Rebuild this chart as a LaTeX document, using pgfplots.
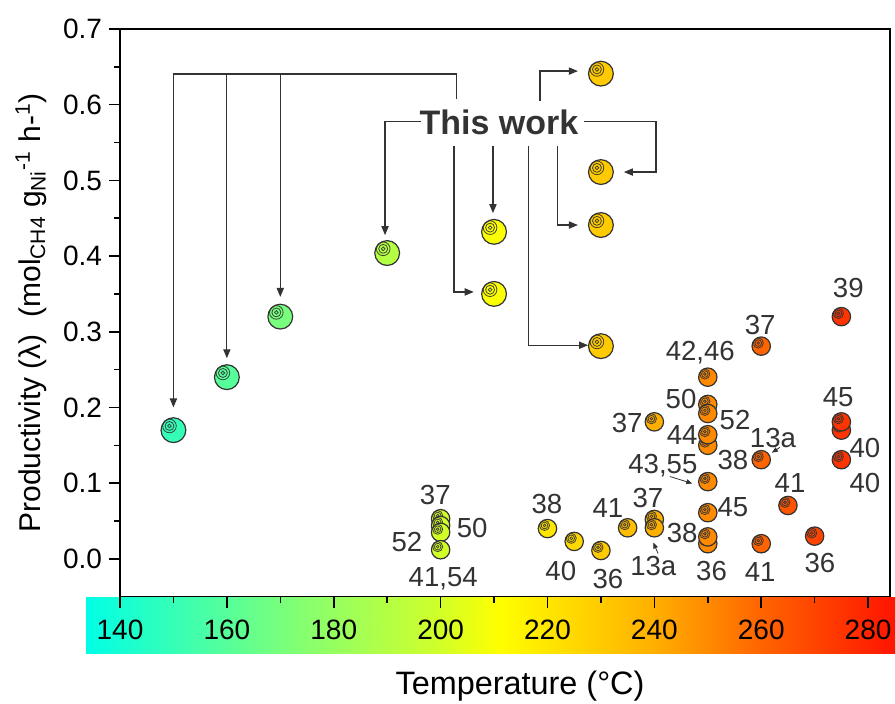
\documentclass[border=0pt]{standalone}
\usepackage{pgfplots}
\pgfplotsset{compat=1.18}
\usepackage{fontspec}
\setmainfont{Liberation Sans}
\usetikzlibrary{arrows.meta}

\pgfdeclareplotmark{sph}{%
  \pgfpathcircle{\pgfpointorigin}{\pgfplotmarksize}%
  \pgfusepathqfillstroke
  \begin{pgfscope}%
  \pgfsetlinewidth{0.4pt}%
  \pgfsetstrokeopacity{0.9}%
  \pgfpathcircle{\pgfpoint{-0.32\pgfplotmarksize}{0.34\pgfplotmarksize}}{0.55\pgfplotmarksize}%
  \pgfpathcircle{\pgfpoint{-0.32\pgfplotmarksize}{0.34\pgfplotmarksize}}{0.36\pgfplotmarksize}%
  \pgfpathcircle{\pgfpoint{-0.32\pgfplotmarksize}{0.34\pgfplotmarksize}}{0.15\pgfplotmarksize}%
  \pgfusepathqstroke
  \end{pgfscope}%
}

\pgfplotsset{colormap={temp}{rgb255(134)=(0,255,230) rgb255(175)=(135,255,110) rgb255(200)=(210,255,40) rgb255(211)=(255,255,0) rgb255(240)=(255,175,0) rgb255(250)=(255,138,0) rgb255(260)=(255,100,0) rgb255(285)=(255,20,0)}}

\tikzset{
  lab/.style={font=\fontsize{13.8}{15}\selectfont, text=black!80, inner sep=0pt},
  arr/.style={draw=black!80, line width=0.6pt, -{Triangle[length=4.5pt,width=3.6pt]}},
  sarr/.style={draw=black!80, line width=0.4pt, -{Triangle[length=3pt,width=2.4pt]}},
}

\begin{document}
\begin{tikzpicture}
\useasboundingbox (-60pt,-53.65pt) rectangle (387.5pt,298.35pt);
% colour bar
\begin{axis}[
  at={(-17pt,0pt)}, anchor=north west,
  scale only axis, width=404.5pt, height=28.5pt,
  xmin=133.64, xmax=285.04, ymin=0, ymax=1,
  hide axis, colormap name=temp,
  point meta min=134, point meta max=285,
]
\addplot[surf, shader=interp, point meta=x, mesh/rows=2] coordinates {
  (133.64,0) (175,0) (200,0) (211,0) (240,0) (250,0) (260,0) (285.04,0)
  (133.64,1) (175,1) (200,1) (211,1) (240,1) (250,1) (260,1) (285.04,1)
};
\end{axis}
\begin{axis}[
  at={(0,0)}, anchor=south west,
  scale only axis, width=385pt, height=283.85pt,
  xmin=140, xmax=284.1, ymin=-0.05, ymax=0.7,
  xtick={140,160,...,280}, ytick={0,0.1,0.2,0.3,0.4,0.5,0.6,0.7},
  minor x tick num=1, minor y tick num=1,
  tick align=outside, xtick pos=left, ytick pos=left,
  major tick length=5.5pt, minor tick length=3pt,
  axis line style={line width=0.8pt},
  every tick/.style={line width=0.8pt, black},
  /pgf/number format/assume math mode=true,
  yticklabel style={/pgf/number format/.cd, fixed, fixed zerofill, precision=1, /tikz/.cd, font=\fontsize{14}{16}\selectfont},
  xticklabel={\raisebox{-16pt}[0pt][0pt]{\pgfmathprintnumber{\tick}}},
  xticklabel style={anchor=center, inner sep=0pt, font=\fontsize{14}{16}\selectfont},
  xlabel={Temperature (°C)},
  xlabel style={at={(axis description cs:0.5195,0)}, anchor=center, yshift=-44.5pt, font=\fontsize{16.2}{18}\selectfont},
  ylabel={Productivity (λ)\ \ (mol\textsubscript{CH4} g\textsubscript{Ni}\textsuperscript{-1} h-\textsuperscript{1})},
  ylabel style={at={(axis description cs:-0.1156,0.5)}, anchor=center, font=\fontsize{15}{18}\selectfont},
  colormap name=temp,
  point meta min=134, point meta max=285,
  clip=false,
]
% literature data
\addplot[scatter, only marks, mark=sph, mark size=4.6pt, line width=0.6pt, point meta=x,
  scatter/use mapped color={draw=black!80, fill=mapped color}] coordinates {
  (200,0.053) (200,0.044) (200,0.035) (200,0.012)
  (220,0.040) (225,0.023) (230,0.011) (235,0.041)
  (240,0.052) (240,0.041) (240,0.181)
  (250,0.240) (250,0.204) (250,0.192) (250,0.150) (250,0.164)
  (250,0.102) (250,0.061) (250,0.020) (250,0.029)
  (260,0.281) (260,0.131) (260,0.020) (265,0.0705) (270,0.030)
  (275,0.320) (275,0.170) (275,0.181) (275,0.131)
};
% this work
\addplot[scatter, only marks, mark=sph, mark size=6.2pt, line width=0.6pt, point meta=x,
  scatter/use mapped color={draw=black!80, fill=mapped color}] coordinates {
  (150,0.17) (160,0.24) (170,0.32) (190,0.404) (210,0.432) (210,0.350)
  (230,0.641) (230,0.511) (230,0.441) (230,0.281)
};
% This work annotation
\node[font=\fontsize{17}{20}\selectfont\bfseries, text=black!80, inner sep=0pt] at (axis cs:210.9,0.5764) {This work};
\draw[arr] (axis cs:202.9,0.6075) -- (axis cs:202.9,0.6405) -- (axis cs:150,0.6405) -- (axis cs:150,0.200);
\draw[arr] (axis cs:160,0.6405) -- (axis cs:160,0.265);
\draw[arr] (axis cs:170,0.6405) -- (axis cs:170,0.346);
\draw[arr] (axis cs:196.3,0.5777) -- (axis cs:189.6,0.5777) -- (axis cs:189.6,0.4276);
\draw[arr] (axis cs:202.5,0.546) -- (axis cs:202.5,0.3526) -- (axis cs:206.2,0.3526);
\draw[arr] (axis cs:209.8,0.546) -- (axis cs:209.8,0.4567);
\draw[arr] (axis cs:216.4,0.546) -- (axis cs:216.4,0.2822) -- (axis cs:227.6,0.2822);
\draw[arr] (axis cs:221.8,0.546) -- (axis cs:221.8,0.441) -- (axis cs:225.7,0.441);
\draw[arr] (axis cs:218.6,0.605) -- (axis cs:218.6,0.6444) -- (axis cs:225.7,0.6444);
\draw[arr] (axis cs:226.8,0.5777) -- (axis cs:240.3,0.5777) -- (axis cs:240.3,0.511) -- (axis cs:234.3,0.511);
% small arrows
\draw[sarr] (axis cs:242.9,0.1088) -- (axis cs:247.1,0.0996);
\draw[sarr] (axis cs:263.5,0.1473) -- (axis cs:262.0,0.1402);
\draw[sarr] (axis cs:240.7,0.0070) -- (axis cs:239.8,0.0216);
% reference labels
\node[lab] at (axis cs:276.3,0.3577) {39};
\node[lab] at (axis cs:259.8,0.309) {37};
\node[lab] at (axis cs:248.6,0.273) {42,46};
\node[lab] at (axis cs:245.0,0.2116) {50};
\node[lab] at (axis cs:255.1,0.183) {52};
\node[lab] at (axis cs:234.9,0.179) {37};
\node[lab] at (axis cs:245.2,0.164) {44};
\node[lab] at (axis cs:262.2,0.160) {13a};
\node[lab] at (axis cs:254.7,0.130) {38};
\node[lab] at (axis cs:241.6,0.1235) {43,55};
\node[lab] at (axis cs:274.4,0.213) {45};
\node[lab] at (axis cs:279.4,0.147) {40};
\node[lab] at (axis cs:279.4,0.0996) {40};
\node[lab] at (axis cs:265.4,0.0996) {41};
\node[lab] at (axis cs:254.7,0.068) {45};
\node[lab] at (axis cs:231.3,0.0666) {41};
\node[lab] at (axis cs:238.8,0.081) {37};
\node[lab] at (axis cs:245.2,0.0335) {38};
\node[lab] at (axis cs:250.7,-0.0155) {36};
\node[lab] at (axis cs:259.8,-0.018) {41};
\node[lab] at (axis cs:271.0,-0.006) {36};
\node[lab] at (axis cs:239.8,-0.009) {13a};
\node[lab] at (axis cs:199.0,0.084) {37};
\node[lab] at (axis cs:205.9,0.041) {50};
\node[lab] at (axis cs:193.7,0.0216) {52};
\node[lab] at (axis cs:200.5,-0.026) {41,54};
\node[lab] at (axis cs:219.9,0.073) {38};
\node[lab] at (axis cs:222.5,-0.0155) {40};
\node[lab] at (axis cs:231.3,-0.026) {36};
\end{axis}
\end{tikzpicture}
\end{document}
